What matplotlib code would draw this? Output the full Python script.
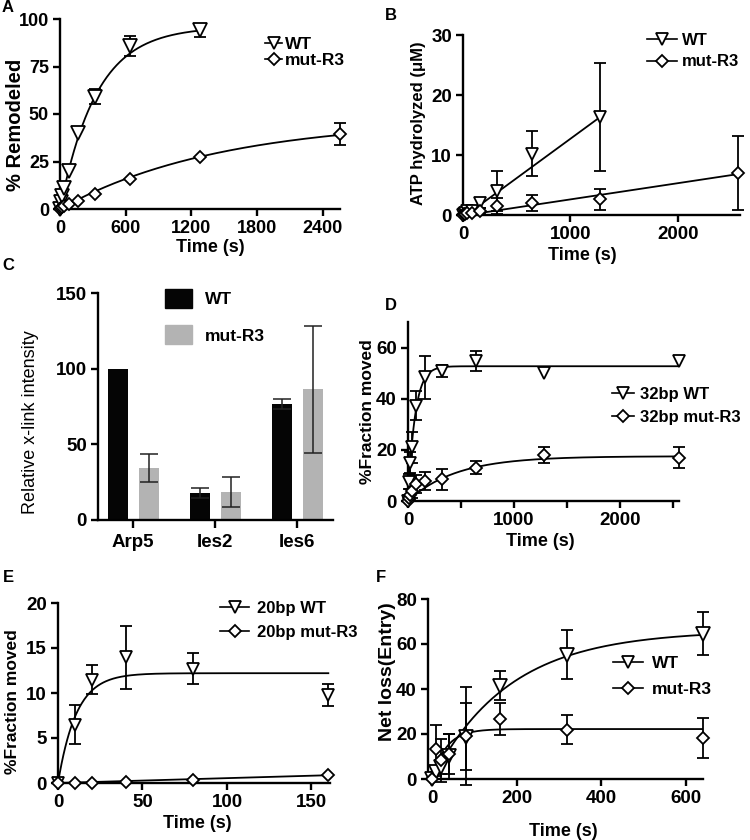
import numpy as np
import matplotlib
matplotlib.use("Agg")
import matplotlib.pyplot as plt
from matplotlib.lines import Line2D
from matplotlib.patches import Patch

plt.rcParams['font.family'] = ['Liberation Sans', 'DejaVu Sans']
plt.rcParams['font.weight'] = 'bold'

# ---- data ----
# A: % remodeled vs time
A_T_WT = [0, 10, 20, 40, 80, 160, 320, 640, 1280]
A_WT = [0, 3.5, 7, 11, 20, 40, 59, 86, 94]
A_WT_ERR = [0, 0, 0, 0, 0, 0, 4, 5.3, 3.3]
A_T_MUT = [0, 10, 20, 40, 80, 160, 320, 640, 1280, 2560]
A_MUT = [0, 0.4, 0.8, 1.5, 2.5, 4, 7.7, 16, 27.5, 39.5]
A_MUT_ERR = [0, 0, 0, 0, 0, 0, 0, 0, 0, 6]
A_FIT_WT = (96.0, 0.003)      # plateau, rate
A_FIT_MUT = (47.3, 0.00068)

# B: ATP hydrolyzed
B_T_WT = [0, 10, 20, 40, 80, 160, 320, 640, 1280]
B_WT = [0, 0.2, 0.4, 0.6, 0.6, 2.0, 4.0, 10.2, 16.3]
B_WT_ERR = [0, 0, 0, 0, 0.3, 0.9, 3.3, 3.75, 9.0]
B_T_MUT = [0, 10, 20, 40, 80, 160, 320, 640, 1280, 2560]
B_MUT = [0, 0.1, 0.2, 0.3, 0.4, 0.6, 1.5, 2.0, 2.6, 7.0]
B_MUT_ERR = [0, 0, 0, 0, 0.2, 0.5, 1.3, 1.4, 1.8, 6.2]
B_LINE_WT = (0.0131, -0.4)    # slope, intercept
B_LINE_MUT = (0.0027, -0.1)

# C: crosslink intensity
C_CATS = ['Arp5', 'Ies2', 'Ies6']
C_WT = [100, 17.7, 76.8]
C_WT_ERR = [0, 3.3, 3.3]
C_MUT = [34.3, 18.4, 86.3]
C_MUT_ERR = [9.4, 9.75, 42.2]

# D: 32bp fraction moved
D_T = [0, 10, 20, 40, 80, 160, 320, 640, 1280, 2560]
D_WT = [0, 7.5, 15, 21, 37.3, 48.3, 50.9, 54.8, 50.2, 54.8]
D_WT_ERR = [0, 3, 4, 6, 5.8, 8.4, 2.3, 4, 0, 0]
D_MUT = [0, 1, 2.5, 4, 6.5, 7.8, 8.5, 13, 18, 17]
D_MUT_ERR = [0, 1, 2, 3, 3.5, 3.5, 4.2, 2.5, 3.2, 4.2]
D_FIT_WT = (52.7, 0.015)
D_FIT_MUT = (17.5, 0.0022)

# E: 20bp fraction moved
E_T = [0, 10, 20, 40, 80, 160]
E_WT = [0, 6.5, 11.5, 14, 12.7, 9.8]
E_WT_ERR = [0, 2.2, 1.6, 3.5, 1.7, 1.2]
E_MUT = [0, 0.05, 0.05, 0.1, 0.35, 0.85]
E_MUT_ERR = [0, 0, 0, 0, 0, 0]
E_FIT_WT = (12.2, 0.092)
E_LINE_MUT = (0.0054, 0.0)

# F: net loss (entry)
F_T = [0, 10, 20, 40, 80, 160, 320, 640]
F_WT = [0, 3.3, 5.2, 10.2, 18.8, 41.5, 55.3, 64.6]
F_WT_ERR = [0, 2, 3, 10, 14.8, 6.3, 11, 9.7]
F_MUT = [0, 13.5, 8.4, 11.1, 19, 26.7, 21.9, 18.2]
F_MUT_ERR = [0, 10.5, 9.6, 9, 21.7, 7, 6.4, 8.7]
F_FIT_WT = (66.0, 0.0055)
F_FIT_MUT = (22.2, 0.03)

W, H = 750, 840
TICK = 13.5
fig = plt.figure(figsize=(W / 100, H / 100), dpi=100)


def px_axes(left, top, right, bottom):
    return fig.add_axes([left / W, 1 - bottom / H, (right - left) / W, (bottom - top) / H])


def ftext(x, y, s, **kw):
    fig.text(x / W, 1 - y / H, s, ha='center', va='center', **kw)


def style(ax, size=TICK):
    for s in ['top', 'right']:
        ax.spines[s].set_visible(False)
    for s in ['left', 'bottom']:
        ax.spines[s].set_linewidth(1.7)
    ax.tick_params(direction='out', length=5, width=1.7, labelsize=size, pad=3)
    ax.tick_params(which='minor', direction='out', length=5, width=1.7)


def one_phase(t, fit):
    plateau, k = fit
    return plateau * (1 - np.exp(-k * t))


def draw_series(ax, t, y, err, marker, ms):
    t, y, err = np.asarray(t, float), np.asarray(y, float), np.asarray(err, float)
    m = err > 0
    if m.any():
        ax.errorbar(t[m], y[m], yerr=err[m], fmt='none', ecolor='k', elinewidth=1.3,
                    capsize=4.5, capthick=1.3, zorder=3, clip_on=False)
    ax.plot(t, y, ls='none', marker=marker, ms=ms, mfc='white', mec='k', mew=1.3,
            zorder=4, clip_on=False)


def handles(ms_v=9, ms_d=6):
    return [Line2D([], [], color='k', lw=1.2, marker='v', ms=ms_v, mfc='white', mec='k', mew=1.3),
            Line2D([], [], color='k', lw=1.2, marker='D', ms=ms_d, mfc='white', mec='k', mew=1.3)]


def put_legend(ax, labels, x, y, size, hl, pad, spacing):
    ax.legend(handles(), labels, loc='upper left', bbox_to_anchor=(x / W, 1 - y / H),
              bbox_transform=fig.transFigure, frameon=False, borderpad=0, borderaxespad=0,
              handlelength=hl, handletextpad=pad, labelspacing=spacing, numpoints=1,
              prop=dict(weight='bold', size=size))


# ---- A ----
ax = px_axes(60, 19, 340, 209)
t = np.linspace(0, 1280, 300)
ax.plot(t, one_phase(t, A_FIT_WT), color='k', lw=1.3, zorder=2)
t = np.linspace(0, 2560, 300)
ax.plot(t, one_phase(t, A_FIT_MUT), color='k', lw=1.3, zorder=2)
draw_series(ax, A_T_WT, A_WT, A_WT_ERR, 'v', 9.5)
draw_series(ax, A_T_MUT, A_MUT, A_MUT_ERR, 'D', 6)
ax.set_xlim(0, 2560)
ax.set_ylim(0, 100)
ax.set_xticks([0, 600, 1200, 1800, 2400])
ax.set_yticks([0, 25, 50, 75, 100])
style(ax, 13)
put_legend(ax, ['WT', 'mut-R3'], 265, 37, 12.5, 1.0, 0.15, 0.05)
ftext(16, 125, '% Remodeled', rotation=90, fontsize=14.5, fontweight='bold')
ftext(210, 248, 'Time (s)', fontsize=13, fontweight='bold')

# ---- B ----
ax = px_axes(463, 35, 740, 215)
t = np.linspace(0, 1280, 10)
ax.plot(t, B_LINE_WT[0] * t + B_LINE_WT[1], color='k', lw=1.3, zorder=2)
t = np.linspace(0, 2560, 10)
ax.plot(t, B_LINE_MUT[0] * t + B_LINE_MUT[1], color='k', lw=1.3, zorder=2)
draw_series(ax, B_T_WT, B_WT, B_WT_ERR, 'v', 9)
draw_series(ax, B_T_MUT, B_MUT, B_MUT_ERR, 'D', 6)
ax.set_xlim(0, 2580)
ax.set_ylim(0, 30)
ax.set_xticks([0, 1000, 2000])
ax.set_yticks([0, 10, 20, 30])
style(ax)
put_legend(ax, ['WT', 'mut-R3'], 647, 33, 12, 1.8, 0.3, 0.38)
ftext(418, 123, 'ATP hydrolyzed (μM)', rotation=90, fontsize=12, fontweight='bold')
ftext(582, 255, 'Time (s)', fontsize=13, fontweight='bold')

# ---- C ----
ax = px_axes(98, 293, 333, 520)
x = np.arange(len(C_CATS))
bw = 0.245
wt_x = x - 0.06 - bw / 2
mut_x = x + 0.07 + bw / 2
ax.bar(wt_x, C_WT, width=bw, color='#050505', zorder=2)
ax.bar(mut_x, C_MUT, width=bw, color='#b3b3b3', zorder=2)
m = np.asarray(C_WT_ERR) > 0
ax.errorbar(wt_x[m], np.asarray(C_WT)[m], yerr=np.asarray(C_WT_ERR)[m], fmt='none',
            ecolor='#222222', elinewidth=1.1, capsize=6.5, capthick=1.1, zorder=3)
ax.errorbar(mut_x, C_MUT, yerr=C_MUT_ERR, fmt='none',
            ecolor='#222222', elinewidth=1.1, capsize=6.5, capthick=1.1, zorder=3)
ax.set_xlim(-0.43, 2.44)
ax.set_ylim(0, 150)
ax.set_xticks(x)
ax.set_xticklabels(C_CATS)
ax.set_yticks([0, 50, 100, 150])
style(ax)
ax.tick_params(axis='x', length=6, pad=4)
ax.legend([Patch(color='#050505'), Patch(color='#b3b3b3')], ['WT', 'mut-R3'],
          loc='upper left', bbox_to_anchor=(165 / W, 1 - 289 / H), bbox_transform=fig.transFigure,
          frameon=False, borderpad=0, borderaxespad=0, handlelength=1.55, handleheight=1.3,
          handletextpad=0.75, labelspacing=1.0, prop=dict(weight='bold', size=12.5))
ftext(31, 422, 'Relative x-link intensity', rotation=90, fontsize=13, fontweight='normal')

# ---- D ----
ax = px_axes(408, 322, 679, 501)
t = np.linspace(0, 2560, 600)
ax.plot(t, one_phase(t, D_FIT_WT), color='k', lw=1.3, zorder=2)
ax.plot(t, one_phase(t, D_FIT_MUT), color='k', lw=1.3, zorder=2)
draw_series(ax, D_T, D_WT, D_WT_ERR, 'v', 8.5)
draw_series(ax, D_T, D_MUT, D_MUT_ERR, 'D', 6)
ax.set_xlim(0, 2560)
ax.set_ylim(0, 70)
ax.set_xticks([0, 1000, 2000])
ax.set_xticks([500, 1500, 2500], minor=True)
ax.set_yticks([0, 20, 40, 60])
style(ax)
put_legend(ax, ['32bp WT', '32bp mut-R3'], 612, 387, 12, 1.3, 0.4, 0.5)
ftext(368, 412, '%Fraction moved', rotation=90, fontsize=12.5, fontweight='bold')
ftext(540, 542, 'Time (s)', fontsize=13, fontweight='bold')

# ---- E ----
ax = px_axes(58, 603, 330, 783)
t = np.linspace(0, 160, 300)
ax.plot(t, one_phase(t, E_FIT_WT), color='k', lw=1.3, zorder=2)
ax.plot(t, E_LINE_MUT[0] * t + E_LINE_MUT[1], color='k', lw=1.3, zorder=2)
draw_series(ax, E_T, E_WT, E_WT_ERR, 'v', 9)
draw_series(ax, E_T, E_MUT, E_MUT_ERR, 'D', 6)
ax.set_xlim(0, 161)
ax.set_ylim(0, 20)
ax.set_xticks([0, 50, 100, 150])
ax.set_yticks([0, 5, 10, 15, 20])
style(ax)
put_legend(ax, ['20bp WT', '20bp mut-R3'], 220, 601, 12, 1.75, 0.45, 0.55)
ftext(13, 702, '%Fraction moved', rotation=90, fontsize=12.5, fontweight='bold')
ftext(197, 823, 'Time (s)', fontsize=13, fontweight='bold')

# ---- F ----
ax = px_axes(428, 599, 703, 779)
t = np.linspace(0, 640, 300)
ax.plot(t, one_phase(t, F_FIT_WT), color='k', lw=1.3, zorder=2)
ax.plot(t, one_phase(t, F_FIT_MUT), color='k', lw=1.3, zorder=2)
draw_series(ax, F_T, F_WT, F_WT_ERR, 'v', 9.5)
draw_series(ax, F_T, F_MUT, F_MUT_ERR, 'D', 6.5)
ax.set_xlim(-10, 641)
ax.set_ylim(0, 80)
ax.set_xticks([0, 200, 400, 600])
ax.set_yticks([0, 20, 40, 60, 80])
style(ax)
put_legend(ax, ['WT', 'mut-R3'], 613, 656, 12.5, 1.75, 0.5, 0.6)
ftext(387, 672, 'Net loss(Entry)', rotation=90, fontsize=14, fontweight='bold')
ftext(563, 831, 'Time (s)', fontsize=13, fontweight='bold')

# panel letters
for letter, (lx, ly) in zip('ABCDEF', [(8, 8), (391, 15), (8, 266), (391, 305), (8, 577), (381, 577)]):
    ftext(lx, ly, letter, fontsize=12, fontweight='bold')

fig.savefig('out.png', dpi=100)
